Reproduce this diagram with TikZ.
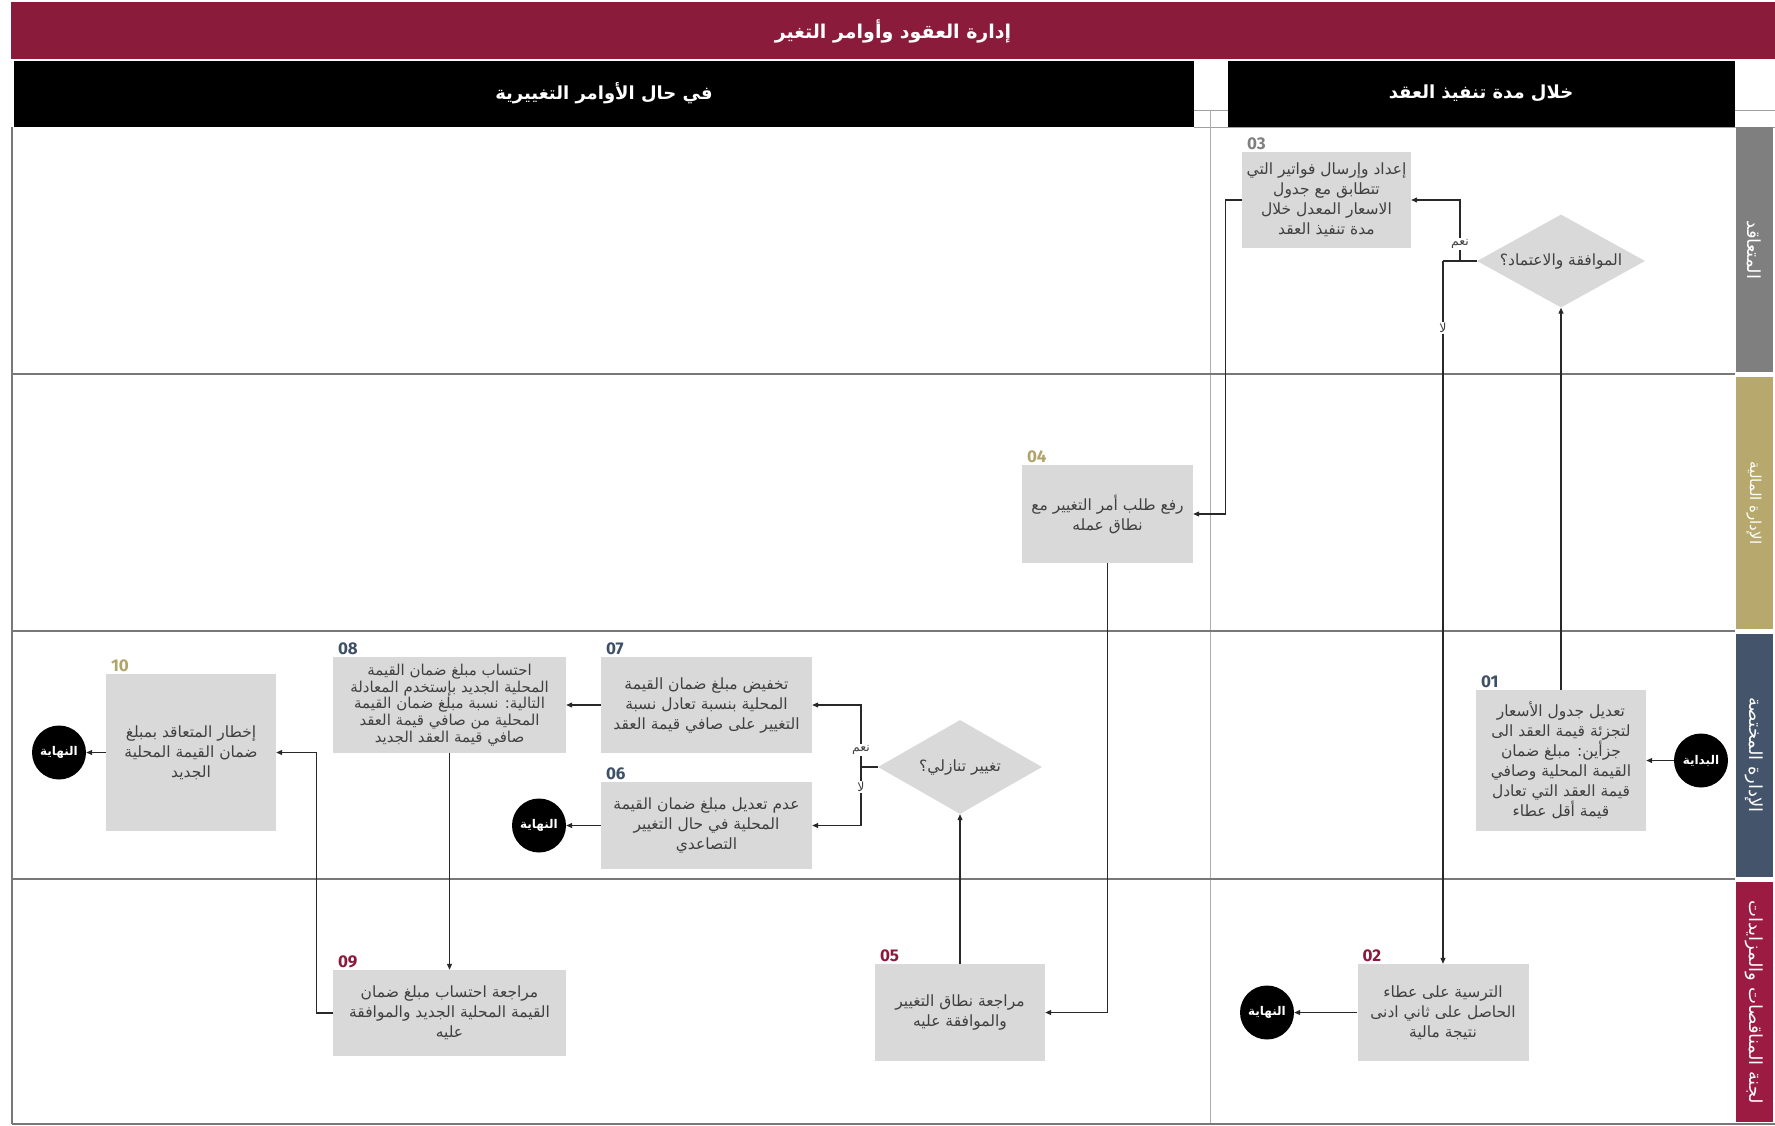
\documentclass[tikz,border=0pt]{standalone}
\usepackage{fontspec}
\setmainfont{DejaVu Sans}
\newfontfamily\arabicfont[Script=Arabic]{DejaVu Sans}
\newfontfamily\numfont{Fira Sans}
\TeXXeTstate=1
\usetikzlibrary{arrows.meta,shapes.geometric,calc}
\newcommand{\ar}[1]{\beginR #1\endR}
\newcommand{\boxfont}{\arabicfont\fontsize{15.5}{20}\selectfont}
\definecolor{titlered}{RGB}{139,27,58}
\definecolor{boxgray}{RGB}{217,217,217}
\definecolor{txtgray}{RGB}{64,64,64}
\definecolor{linecol}{RGB}{40,40,40}
\definecolor{gridcol}{RGB}{120,120,120}
\definecolor{lanegray}{RGB}{127,127,127}
\definecolor{lanegold}{RGB}{183,168,110}
\definecolor{laneslate}{RGB}{68,84,106}
\definecolor{lanecrimson}{RGB}{155,27,66}
\definecolor{numgray}{RGB}{128,128,128}
\definecolor{numgold}{RGB}{176,164,106}
\definecolor{numslate}{RGB}{62,80,102}
\definecolor{numcrimson}{RGB}{139,26,58}
\tikzset{
  box/.style={rectangle, fill=boxgray, text=txtgray, align=center, inner sep=2pt, font=\boxfont},
  dec/.style={diamond, aspect=1.8, fill=boxgray, text=txtgray, inner sep=0pt, font=\boxfont},
  term/.style={circle, fill=black, text=white, minimum size=54pt, inner sep=0pt, font=\arabicfont\bfseries\fontsize{12}{14}\selectfont},
  conn/.style={draw=linecol, line width=1.1pt, -{Triangle[length=6pt,width=5pt]}},
  plain/.style={draw=linecol, line width=1.1pt},
  num/.style={anchor=south west, inner sep=0pt, font=\numfont\bfseries\fontsize{17}{17}\selectfont},
  lanelab/.style={rotate=-90, text=white, font=\arabicfont\fontsize{18}{20}\selectfont},
  yn/.style={fill=white, inner sep=1pt, text=txtgray, font=\arabicfont\fontsize{12.5}{13}\selectfont},
  hdr/.style={text=white, font=\arabicfont\bfseries\fontsize{18}{20}\selectfont},
  grid/.style={draw=gridcol, line width=1.2pt}
}
\begin{document}
\begin{tikzpicture}[x=1pt,y=-1pt]
\fill[white] (0,0) rectangle (1775,1125);
\useasboundingbox (0,0) rectangle (1775,1125);
% title
\fill[titlered] (11,2) rectangle (1775,59);
\node[hdr, font=\arabicfont\bfseries\fontsize{19}{21}\selectfont] (title) at (893,31) {\ar{إدارة العقود وأوامر التغير}};
% header gap lines
\draw[gridcol!70, line width=1pt] (1194,110) -- (1775,110);
\draw[gridcol!70, line width=1pt] (1194,127) -- (1775,127);
% headers
\fill[black] (14,61) rectangle (1194,127);
\fill[black] (1228,61) rectangle (1735,127);
\node[hdr] (h1) at (604,93) {\ar{في حال الأوامر التغييرية}};
\node[hdr] (h2) at (1481,93) {\ar{خلال مدة تنفيذ العقد}};
% grid
\draw[gridcol!60, line width=1pt] (1210,110) -- (1210,1124);
\draw[grid] (12,127) -- (12,1124);
\draw[grid] (12,374) -- (1735,374);
\draw[grid] (12,631) -- (1735,631);
\draw[grid] (12,879) -- (1735,879);
\draw[grid] (12,1124) -- (1775,1124);
% lane labels
\fill[lanegray] (1736,127) rectangle (1773,372);
\fill[lanegold] (1736,377) rectangle (1773,629);
\fill[laneslate] (1736,634) rectangle (1773,877);
\fill[lanecrimson] (1736,882) rectangle (1773,1122);
\node[lanelab] (l1) at (1754,250) {\ar{المتعاقد}};
\node[lanelab, font=\arabicfont\fontsize{15}{17}\selectfont] (l2) at (1754,503) {\ar{الإدارة المالية}};
\node[lanelab] (l3) at (1754,755) {\ar{الإدارة المختصة}};
\node[lanelab] (l4) at (1754,1002) {\ar{لجنة المناقصات والمزايدات}};
% boxes
\node[box, minimum width=169, minimum height=96] (b03) at (1326.5,200) {\ar{إعداد وإرسال فواتير التي}\\\ar{تتطابق مع جدول}\\\ar{الاسعار المعدل خلال}\\\ar{مدة تنفيذ العقد}};
\node[dec, minimum width=168, minimum height=93] (d1) at (1561,261) {\ar{الموافقة والاعتماد؟}};
\node[box, minimum width=171, minimum height=98] (b04) at (1107.5,514) {\ar{رفع طلب أمر التغيير مع}\\\ar{نطاق عمله}};
\node[box, minimum width=170, minimum height=141] (b01) at (1561,760.5) {\ar{تعديل جدول الأسعار}\\\ar{لتجزئة قيمة العقد الى}\\\ar{جزأين: مبلغ ضمان}\\\ar{القيمة المحلية وصافي}\\\ar{قيمة العقد التي تعادل}\\\ar{قيمة أقل عطاء}};
\node[term] (start) at (1701,760.5) {\ar{البداية}};
\node[box, minimum width=171, minimum height=97] (b02) at (1443,1012.5) {\ar{الترسية على عطاء}\\\ar{الحاصل على ثاني ادنى}\\\ar{نتيجة مالية}};
\node[term] (e1) at (1267,1012.5) {\ar{النهاية}};
\node[box, minimum width=170, minimum height=97] (b05) at (960,1012.5) {\ar{مراجعة نطاق التغيير}\\\ar{والموافقة عليه}};
\node[dec, minimum width=164, minimum height=94] (d2) at (960,767) {\ar{تغيير تنازلي؟}};
\node[box, minimum width=211, minimum height=96] (b07) at (706.5,705) {\ar{تخفيض مبلغ ضمان القيمة}\\\ar{المحلية بنسبة تعادل نسبة}\\\ar{التغيير على صافي قيمة العقد}};
\node[box, minimum width=211, minimum height=87] (b06) at (706.5,825.5) {\ar{عدم تعديل مبلغ ضمان القيمة}\\\ar{المحلية في حال التغيير}\\\ar{التصاعدي}};
\node[term] (e2) at (539,825.5) {\ar{النهاية}};
\node[box, minimum width=233, minimum height=96, font=\arabicfont\fontsize{15}{16.7}\selectfont] (b08) at (449.5,705) {\ar{احتساب مبلغ ضمان القيمة}\\\ar{المحلية الجديد بإستخدم المعادلة}\\\ar{التالية: نسبة مبلغ ضمان القيمة}\\\ar{المحلية من صافي قيمة العقد}\\\ar{صافي قيمة العقد الجديد}};
\node[box, minimum width=233, minimum height=86] (b09) at (449.5,1013) {\ar{مراجعة احتساب مبلغ ضمان}\\\ar{القيمة المحلية الجديد والموافقة}\\\ar{عليه}};
\node[box, minimum width=170, minimum height=157] (b10) at (191,752.5) {\ar{إخطار المتعاقد بمبلغ}\\\ar{ضمان القيمة المحلية}\\\ar{الجديد}};
\node[term] (e3) at (59,752.5) {\ar{النهاية}};
% step numbers
\node[num, text=numgray] (n03) at ($(b03.north west)+(5,-2)$) {03};
\node[num, text=numgold] (n04) at ($(b04.north west)+(5,-2)$) {04};
\node[num, text=numslate] (n01) at ($(b01.north west)+(5,-2)$) {01};
\node[num, text=numcrimson] (n02) at ($(b02.north west)+(5,-2)$) {02};
\node[num, text=numcrimson] (n05) at ($(b05.north west)+(5,-2)$) {05};
\node[num, text=numslate] (n07) at ($(b07.north west)+(5,-2)$) {07};
\node[num, text=numslate] (n06) at ($(b06.north west)+(5,-2)$) {06};
\node[num, text=numslate] (n08) at ($(b08.north west)+(5,-2)$) {08};
\node[num, text=numcrimson] (n09) at ($(b09.north west)+(5,-2)$) {09};
\node[num, text=numgold] (n10) at ($(b10.north west)+(5,-2)$) {10};
% connectors
\draw[conn] (start) -- (b01.east);
\draw[conn] (b01.north) -- (d1.south);
\coordinate (noj) at (1443,261);
\coordinate (yesj) at (1460,261);
\draw[plain] (d1.west) -- (noj);
\draw[conn] (yesj) |- (b03.east);
\draw[conn] (noj) -- (b02.north);
\node[yn] (yes1) at (1460,244) {\ar{نعم}};
\node[yn] (no1) at (1443,328) {\ar{لا}};
\draw[conn] (b03.west) -- ++(-16,0) |- (b04.east);
\draw[conn] (b04.south) |- (b05.east);
\draw[conn] (b05.north) -- (d2.south);
\coordinate (j2) at (861,767);
\draw[plain] (d2.west) -- (j2);
\draw[conn] (j2) |- (b07.east);
\draw[conn] (j2) |- (b06.east);
\node[yn] (yes2) at (861,750) {\ar{نعم}};
\node[yn] (no2) at (861,787) {\ar{لا}};
\draw[conn] (b06.west) -- (e2.east);
\draw[conn] (b07.west) -- (b08.east);
\draw[conn] (b08.south) -- (b09.north);
\draw[conn] (b09.west) -- ++(-16,0) |- (b10.east);
\draw[conn] (b10.west) -- (e3.east);
\draw[conn] (b02.west) -- (e1.east);
\end{tikzpicture}
\end{document}
